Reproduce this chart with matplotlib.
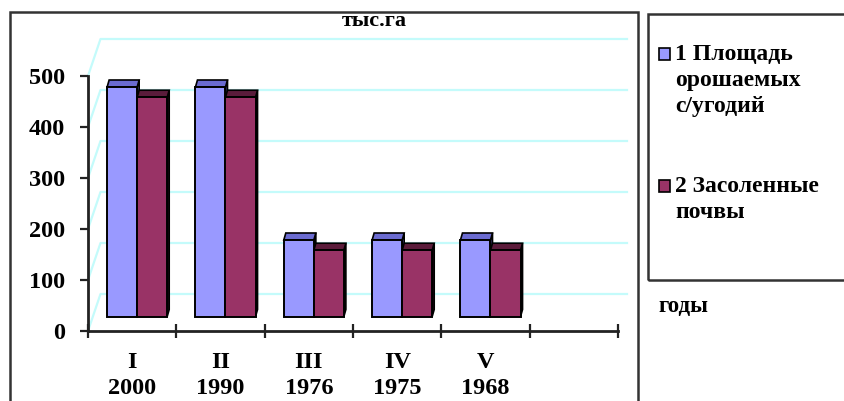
import matplotlib.pyplot as plt
from matplotlib.patches import Rectangle, Polygon

# data
periods = ['I', 'II', 'III', 'IV', 'V']
years = ['2000', '1990', '1976', '1975', '1968']
irrigated = [450, 450, 150, 150, 150]   # 1 Площадь орошаемых с/угодий
saline = [430, 430, 130, 130, 130]      # 2 Засоленные почвы
y_ticks = [0, 100, 200, 300, 400, 500]

W, H = 845, 401
plt.rcParams['font.family'] = 'serif'
plt.rcParams['font.serif'] = ['Liberation Serif']
fnt = dict(family='Liberation Serif', weight='bold')

fig = plt.figure(figsize=(W / 100, H / 100), dpi=100)
fig.patch.set_facecolor('white')

# plot area of the front plane, in pixels
x0, x1, y0, y1 = 88, 618, 331, 76
ax = fig.add_axes([x0 / W, 1 - y0 / H, (x1 - x0) / W, (y0 - y1) / H])
ax.set_xlim(0, 6)
ax.set_ylim(0, 500)
ax.patch.set_alpha(0)

px_x = 6 / (x1 - x0)      # data units per pixel
px_y = 500 / (y0 - y1)

# back wall and side wall grid (pseudo 3D)
grid_col = '#c4fbfb'
bdx, bdy = 12.5 * px_x, 37 * px_y
for v in y_ticks:
    ax.plot([0, bdx, 6 + 9 * px_x], [v, v + bdy, v + bdy], color=grid_col,
            lw=1.6, clip_on=False, zorder=1)

# bars
blue, blue_top = '#9999ff', '#6b6bd0'
red, red_top, red_side = '#993366', '#5a1c3b', '#2a0c1b'
bw = 0.34
fdx, fdy = 5 * px_x, 14.5 * px_y     # floor offset of the bar row
tdx, tdy = 2 * px_x, 7 * px_y        # depth of a bar

def bar3d(x, h, face, top, side):
    b = fdy
    t = fdy + h
    ax.add_patch(Polygon([(x + bw, b), (x + bw, t), (x + bw + tdx, t + tdy),
                          (x + bw + tdx, b + tdy)], closed=True, fc=side,
                         ec='black', lw=1.2, clip_on=False, zorder=3))
    ax.add_patch(Polygon([(x, t), (x + bw, t), (x + bw + tdx, t + tdy),
                          (x + tdx, t + tdy)], closed=True, fc=top,
                         ec='black', lw=1.2, clip_on=False, zorder=3))
    ax.add_patch(Rectangle((x, b), bw, h, fc=face, ec='black', lw=1.4,
                           clip_on=False, zorder=4))

for i in range(len(periods)):
    c = i + 0.5 + fdx
    bar3d(c - bw, irrigated[i], blue, blue_top, blue_top)
    bar3d(c, saline[i], red, red_top, red_side)

# axes
for s in ['top', 'right']:
    ax.spines[s].set_visible(False)
for s in ['left', 'bottom']:
    ax.spines[s].set_color('#222222')
    ax.spines[s].set_linewidth(2)
    ax.spines[s].set_zorder(5)

ax.set_yticks(y_ticks)
ax.set_yticklabels([str(v) for v in y_ticks], fontsize=17.5, **fnt)
ax.tick_params(axis='y', direction='out', length=5.5, width=1.6,
               color='#222222', pad=11)
ax.set_xticks(range(7))
ax.set_xticklabels([])
ax.tick_params(axis='x', which='major', direction='inout', length=10,
               width=1.6, color='#222222')
ax.set_xticks([i + 0.5 for i in range(len(periods))], minor=True)
ax.set_xticklabels([p + '\n' + y for p, y in zip(periods, years)], minor=True,
                   fontsize=17.5, linespacing=1.3, **fnt)
ax.tick_params(axis='x', which='minor', length=0, pad=15)

# chart frame
fig.add_artist(Rectangle((10 / W, -0.1), 628 / W, 1.1 - 12 / H,
                         transform=fig.transFigure, fill=False,
                         ec='#333333', lw=1.8))
fig.text(374 / W, 1 - 21 / H, 'тыс.га', ha='center', va='center',
         fontsize=16, **fnt)

# legend
fig.add_artist(Rectangle((648 / W, 1 - 280 / H), 250 / W, 266 / H,
                         transform=fig.transFigure, fill=False,
                         ec='#333333', lw=1.8))
legend_items = [('1 Площадь\nорошаемых\nс/угодий', blue, 54),
                ('2 Засоленные\nпочвы', red, 186)]
for label, col, ly in legend_items:
    fig.add_artist(Rectangle((659 / W, 1 - (ly + 6) / H), 11 / W, 12 / H,
                             transform=fig.transFigure, fc=col,
                             ec='black', lw=1.2))
    fig.text(675 / W, 1 - (ly - 10) / H, label, ha='left', va='top',
             fontsize=17, linespacing=1.3, **fnt)

fig.text(658 / W, 1 - 306 / H, 'годы', ha='left', va='center',
         fontsize=16.5, **fnt)

fig.savefig('out.png', dpi=100)
